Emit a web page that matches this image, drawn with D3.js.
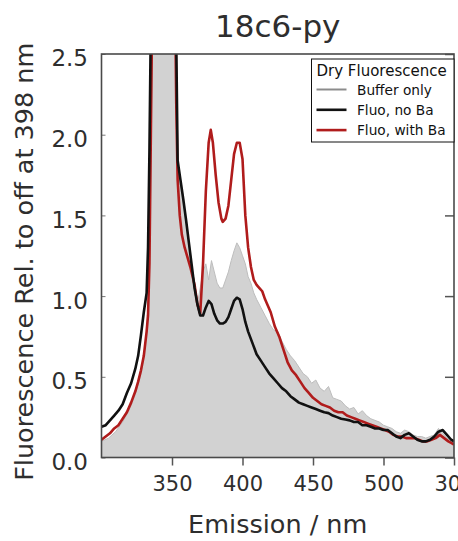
<!DOCTYPE html>
<html>
<head>
<meta charset="utf-8">
<script src="https://cdn.jsdelivr.net/npm/d3@7"></script>
<style>
  body { margin: 0; background: #fff; }
  svg { display: block; font-family: "DejaVu Sans", sans-serif; }
</style>
</head>
<body>
<script>
// spectra: [wavelength nm, relative fluorescence]
const bufferOnly = [[300,0.10],[305,0.12],[310,0.16],[315,0.22],[320,0.30],[324,0.39],[328,0.52],[330,0.62],[332,0.78],[334,1.15],[335,2.0],[336,3],[340,6],[348,6],[352,3],[353,2.4],[354,1.82],[356,1.70],[358,1.58],[360,1.45],[362,1.31],[364,1.17],[366,1.03],[368,0.95],[370,1.05],[372,1.15],[374,1.2],[376,1.1],[378,1.22],[380,1.15],[382,1.08],[384,1.05],[386,1.05],[388,1.1],[390,1.15],[392,1.22],[394,1.28],[396,1.33],[398,1.30],[400,1.25],[402,1.2],[404,1.12],[406,1.08],[408,1.02],[410,0.98],[413,0.93],[416,0.88],[419,0.83],[422,0.79],[425,0.78],[428,0.72],[431,0.67],[434,0.63],[437,0.60],[440,0.56],[443,0.52],[446,0.50],[449,0.46],[452,0.48],[455,0.43],[458,0.41],[461,0.44],[464,0.37],[467,0.36],[470,0.35],[473,0.32],[476,0.30],[479,0.31],[482,0.27],[485,0.29],[488,0.26],[491,0.24],[494,0.23],[497,0.22],[500,0.20],[503,0.19],[506,0.18],[509,0.16],[512,0.15],[515,0.17],[518,0.16],[521,0.14],[524,0.13],[527,0.13],[530,0.12],[533,0.13],[536,0.14],[539,0.18],[542,0.15],[545,0.12],[548,0.10],[550,0.09]];

const fluoNoBa = [[300,0.19],[303,0.20],[306,0.23],[309,0.26],[312,0.29],[315,0.33],[318,0.40],[321,0.46],[324,0.55],[326,0.63],[328,0.76],[330,0.90],[332,1.02],[333,1.3],[334,1.9],[335,2.7],[336,3.5],[340,5],[348,5],[352,3.2],[353,2.6],[354,1.84],[356,1.72],[358,1.60],[360,1.47],[362,1.33],[364,1.19],[366,1.05],[368,0.95],[370,0.88],[372,0.88],[374,0.93],[376,0.97],[378,0.95],[380,0.89],[382,0.85],[384,0.83],[386,0.83],[388,0.84],[390,0.87],[392,0.92],[394,0.97],[396,0.99],[398,0.98],[400,0.92],[402,0.84],[404,0.78],[407,0.71],[410,0.64],[413,0.60],[416,0.56],[419,0.52],[422,0.49],[425,0.46],[428,0.43],[431,0.41],[434,0.38],[437,0.36],[440,0.34],[443,0.33],[446,0.32],[449,0.31],[452,0.30],[455,0.29],[458,0.28],[461,0.275],[464,0.26],[467,0.25],[470,0.24],[473,0.235],[476,0.23],[479,0.22],[482,0.22],[485,0.20],[488,0.20],[491,0.19],[494,0.18],[497,0.18],[500,0.17],[503,0.17],[506,0.15],[509,0.13],[512,0.12],[515,0.14],[518,0.15],[521,0.13],[524,0.11],[527,0.10],[530,0.10],[533,0.11],[536,0.13],[539,0.16],[542,0.17],[545,0.14],[548,0.11],[550,0.10]];

const fluoWithBa = [[300,0.11],[303,0.13],[306,0.15],[309,0.18],[312,0.20],[315,0.24],[318,0.28],[321,0.34],[324,0.41],[326,0.47],[328,0.54],[330,0.63],[332,0.78],[333,0.88],[334,1.2],[335,2.0],[336,2.8],[340,5],[348,5],[352,3.0],[353,2.2],[354,1.72],[355.5,1.50],[357,1.38],[359,1.30],[361,1.24],[363,1.18],[366,1.07],[368,0.95],[370,0.89],[372,1.2],[374,1.65],[376,1.95],[377.5,2.03],[379,1.95],[381,1.75],[383,1.58],[385,1.48],[386,1.46],[388,1.48],[390,1.56],[392,1.72],[394,1.88],[396,1.95],[398,1.95],[400,1.85],[402,1.50],[404,1.30],[406,1.18],[408,1.10],[410,1.07],[412,1.05],[414,1.03],[416,0.98],[418,0.94],[420,0.90],[423,0.81],[426,0.75],[429,0.67],[432,0.59],[435,0.54],[438,0.51],[441,0.47],[444,0.43],[447,0.40],[450,0.37],[453,0.35],[456,0.33],[459,0.32],[462,0.31],[465,0.29],[468,0.28],[471,0.28],[474,0.26],[477,0.25],[480,0.24],[483,0.23],[486,0.22],[489,0.21],[492,0.20],[495,0.19],[498,0.18],[501,0.17],[504,0.16],[507,0.14],[510,0.13],[513,0.13],[516,0.12],[519,0.12],[522,0.12],[525,0.11],[528,0.10],[531,0.10],[534,0.11],[537,0.12],[540,0.14],[543,0.12],[546,0.10],[548,0.09],[550,0.08]];

const xTicks = [350, 400, 450, 500, 550];
const xTickLabels = ["350", "400", "450", "500", "300"];
const yTicks = [0, 0.5, 1.0, 1.5, 2.0, 2.5];

const legendTitle = "Dry Fluorescence";
const seriesNames = ["Buffer only", "Fluo, no Ba", "Fluo, with Ba"];
const seriesColors = ["#8c8c8c", "#111111", "#b01c1c"];

const width = 458, height = 541;
const marginLeft = 101.5, marginRight = 4, marginTop = 54, marginBottom = 83.5;

const x = d3.scaleLinear().domain([300, 550]).range([marginLeft, width - marginRight]);
const y = d3.scaleLinear().domain([0, 2.5]).range([height - marginBottom, marginTop]);

const svg = d3.select("body").append("svg")
    .attr("width", width)
    .attr("height", height)
    .attr("viewBox", [0, 0, width, height]);

svg.append("clipPath").attr("id", "plot")
  .append("rect")
    .attr("x", marginLeft).attr("y", marginTop)
    .attr("width", x.range()[1] - marginLeft)
    .attr("height", y.range()[0] - marginTop);

const plot = svg.append("g").attr("clip-path", "url(#plot)");

const area = d3.area()
    .x(d => x(d[0]))
    .y0(y(0))
    .y1(d => y(d[1]));

const line = d3.line()
    .x(d => x(d[0]))
    .y(d => y(d[1]));

plot.append("path")
    .datum(bufferOnly)
    .attr("fill", "#d2d2d2")
    .attr("stroke", "#bdbdbd")
    .attr("stroke-width", 1)
    .attr("d", area);

plot.append("path")
    .datum(fluoWithBa)
    .attr("fill", "none")
    .attr("stroke", seriesColors[2])
    .attr("stroke-width", 2.6)
    .attr("stroke-linejoin", "round")
    .attr("d", line);

plot.append("path")
    .datum(fluoNoBa)
    .attr("fill", "none")
    .attr("stroke", seriesColors[1])
    .attr("stroke-width", 2.6)
    .attr("stroke-linejoin", "round")
    .attr("d", line);

// axes
const textColor = "#2e2e2e";

svg.append("g")
    .attr("transform", `translate(0,${y(0)})`)
    .call(d3.axisBottom(x).tickValues(xTicks).tickSize(8).tickPadding(11)
        .tickFormat((d, i) => xTickLabels[i]))
    .call(g => g.select(".domain").remove())
    .call(g => g.selectAll(".tick line").attr("stroke", "#555").attr("stroke-width", 1.5))
    .call(g => g.selectAll(".tick text").attr("font-size", 21).attr("fill", textColor)
        .attr("font-family", "DejaVu Sans"));

svg.append("g")
    .attr("transform", `translate(${marginLeft},0)`)
    .call(d3.axisLeft(y).tickValues(yTicks).tickSize(-4).tickPadding(13.5).tickFormat(d3.format(".1f")))
    .call(g => g.select(".domain").remove())
    .call(g => g.selectAll(".tick line").attr("stroke", "#777").attr("stroke-width", 1))
    .call(g => g.selectAll(".tick text").attr("font-size", 23).attr("fill", textColor)
        .attr("dy", "0.52em")
        .attr("font-family", "DejaVu Sans"));

svg.append("g")
    .attr("transform", `translate(${x.range()[1]},0)`)
    .call(d3.axisRight(y).tickValues(yTicks).tickSize(-9).tickFormat(""))
    .call(g => g.select(".domain").remove())
    .call(g => g.selectAll(".tick line").attr("stroke", "#555").attr("stroke-width", 1.5));

// frame
svg.append("rect")
    .attr("x", marginLeft).attr("y", marginTop)
    .attr("width", x.range()[1] - marginLeft)
    .attr("height", y.range()[0] - marginTop)
    .attr("fill", "none")
    .attr("stroke", "#4a4a4a")
    .attr("stroke-width", 1.6);

// titles
svg.append("text")
    .attr("x", (x.range()[0] + x.range()[1]) / 2).attr("y", 37)
    .attr("text-anchor", "middle")
    .attr("font-size", 31)
    .attr("fill", textColor)
    .text("18c6-py");

svg.append("text")
    .attr("x", (x.range()[0] + x.range()[1]) / 2).attr("y", 533)
    .attr("text-anchor", "middle")
    .attr("font-size", 25.5)
    .attr("fill", textColor)
    .text("Emission / nm");

svg.append("text")
    .attr("transform", `translate(33,${(y.range()[0] + y.range()[1]) / 2 + 6}) rotate(-90)`)
    .attr("text-anchor", "middle")
    .attr("font-size", 25.5)
    .attr("fill", textColor)
    .text("Fluorescence Rel. to off at 398 nm");

// legend
const legend = svg.append("g").attr("transform", "translate(311.5,59)");
legend.append("rect")
    .attr("width", 142.5).attr("height", 83)
    .attr("fill", "#fff")
    .attr("stroke", "#111")
    .attr("stroke-width", 1);
legend.append("text")
    .attr("x", 5).attr("y", 17)
    .attr("font-size", 15)
    .attr("fill", "#111")
    .text(legendTitle);
seriesNames.forEach((name, i) => {
  const row = legend.append("g").attr("transform", `translate(0,${30.5 + i * 20.3})`);
  row.append("line")
      .attr("x1", 5).attr("x2", 35)
      .attr("stroke", seriesColors[i])
      .attr("stroke-width", i === 0 ? 2 : 2.6);
  row.append("text")
      .attr("x", 45.5).attr("y", 5)
      .attr("font-size", 13.7)
      .attr("fill", "#111")
      .text(name);
});
</script>
</body>
</html>
